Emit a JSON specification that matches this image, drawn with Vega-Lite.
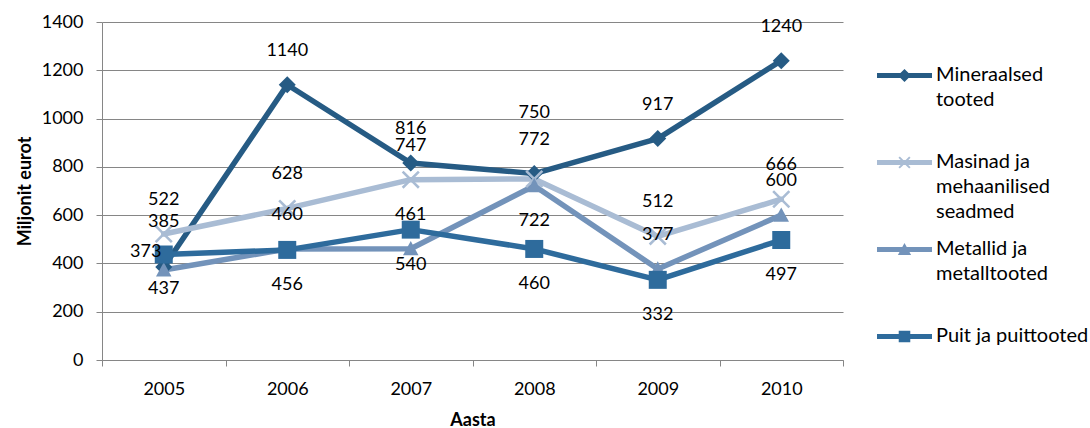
{
  "$schema": "https://vega.github.io/schema/vega-lite/v6.json",
  "autosize": {"type": "none"},
  "padding": {"left": 102, "top": 22, "right": 247, "bottom": 68},
  "width": 741,
  "height": 338,
  "data": {
    "values": [
      {"aasta": "2005", "grupp": "Mineraalsed tooted", "vaartus": 385},
      {"aasta": "2006", "grupp": "Mineraalsed tooted", "vaartus": 1140},
      {"aasta": "2007", "grupp": "Mineraalsed tooted", "vaartus": 816},
      {"aasta": "2008", "grupp": "Mineraalsed tooted", "vaartus": 772},
      {"aasta": "2009", "grupp": "Mineraalsed tooted", "vaartus": 917},
      {"aasta": "2010", "grupp": "Mineraalsed tooted", "vaartus": 1240},
      {"aasta": "2005", "grupp": "Masinad ja mehaanilised seadmed", "vaartus": 522},
      {"aasta": "2006", "grupp": "Masinad ja mehaanilised seadmed", "vaartus": 628},
      {"aasta": "2007", "grupp": "Masinad ja mehaanilised seadmed", "vaartus": 747},
      {"aasta": "2008", "grupp": "Masinad ja mehaanilised seadmed", "vaartus": 750},
      {"aasta": "2009", "grupp": "Masinad ja mehaanilised seadmed", "vaartus": 512},
      {"aasta": "2010", "grupp": "Masinad ja mehaanilised seadmed", "vaartus": 666},
      {"aasta": "2005", "grupp": "Metallid ja metalltooted", "vaartus": 373},
      {"aasta": "2006", "grupp": "Metallid ja metalltooted", "vaartus": 460},
      {"aasta": "2007", "grupp": "Metallid ja metalltooted", "vaartus": 461},
      {"aasta": "2008", "grupp": "Metallid ja metalltooted", "vaartus": 722},
      {"aasta": "2009", "grupp": "Metallid ja metalltooted", "vaartus": 377},
      {"aasta": "2010", "grupp": "Metallid ja metalltooted", "vaartus": 600},
      {"aasta": "2005", "grupp": "Puit ja puittooted", "vaartus": 437},
      {"aasta": "2006", "grupp": "Puit ja puittooted", "vaartus": 456},
      {"aasta": "2007", "grupp": "Puit ja puittooted", "vaartus": 540},
      {"aasta": "2008", "grupp": "Puit ja puittooted", "vaartus": 460},
      {"aasta": "2009", "grupp": "Puit ja puittooted", "vaartus": 332},
      {"aasta": "2010", "grupp": "Puit ja puittooted", "vaartus": 497}
    ]
  },
  "encoding": {
    "x": {
      "field": "aasta",
      "type": "ordinal",
      "bandPosition": 0.5,
      "scale": {"type": "band", "paddingInner": 0, "paddingOuter": 0},
      "axis": {
        "title": "Aasta",
        "labelAngle": 0,
        "tickBand": "extent",
        "grid": false,
        "labelPadding": 14,
        "titleY": 60,
        "titleBaseline": "middle"
      }
    },
    "y": {
      "field": "vaartus",
      "type": "quantitative",
      "scale": {"domain": [0, 1400], "nice": false},
      "axis": {
        "title": "Miljonit eurot",
        "format": "d",
        "values": [0, 200, 400, 600, 800, 1000, 1200, 1400],
        "labelPadding": 13,
        "titleX": -77,
        "titleY": 169,
        "titleAngle": -90,
        "titleAlign": "center",
        "titleBaseline": "middle"
      }
    }
  },
  "layer": [
    {
      "mark": {"type": "line", "strokeWidth": 5.5, "strokeJoin": "round", "strokeCap": "round"},
      "encoding": {
        "color": {
          "field": "grupp",
          "type": "nominal",
          "sort": null,
          "scale": {
            "domain": ["Mineraalsed tooted", "Masinad ja mehaanilised seadmed", "Metallid ja metalltooted", "Puit ja puittooted"],
            "range": ["#265B84", "#A9BCD4", "#7393BA", "#2E6B9C"]
          },
          "legend": {
            "title": null,
            "orient": "none",
            "legendX": 775,
            "legendY": 26,
            "padding": 0,
            "symbolSize": 3025,
            "labelOffset": 4,
            "labelFontSize": 20,
            "labelColor": "#000000",
            "labelBaseline": "top",
            "labelLimit": 400,
            "rowPadding": 0,
            "labelExpr": "datum.label == 'Mineraalsed tooted' ? ['Mineraalsed', 'tooted', ''] : datum.label == 'Masinad ja mehaanilised seadmed' ? ['Masinad ja', 'mehaanilised', 'seadmed'] : datum.label == 'Metallid ja metalltooted' ? ['Metallid ja', 'metalltooted', ''] : ['Puit ja puittooted', '', '']",
            "encode": {
              "symbols": {
                "update": {
                  "shape": {"signal": "datum.value == 'Mineraalsed tooted' ? 'M-1,-0.09H1V0.09H-1Z M0,-0.24L0.24,0L0,0.24L-0.24,0Z' : datum.value == 'Masinad ja mehaanilised seadmed' ? 'M-1,-0.09H1V0.09H-1Z M-0.22,-0.17L-0.17,-0.22L0,-0.05L0.17,-0.22L0.22,-0.17L0.05,0L0.22,0.17L0.17,0.22L0,0.05L-0.17,0.22L-0.22,0.17L-0.05,0Z' : datum.value == 'Metallid ja metalltooted' ? 'M-1,-0.09H1V0.09H-1Z M0,-0.24L0.24,0.2H-0.24Z' : 'M-1,-0.09H1V0.09H-1Z M-0.21,-0.21H0.21V0.21H-0.21Z'"},
                  "fill": {"scale": "color", "field": "value"},
                  "fillOpacity": {"value": 1},
                  "stroke": {"value": "transparent"},
                  "strokeWidth": {"value": 0},
                  "opacity": {"value": 1}
                }
              },
              "labels": {
                "update": {
                  "dy": {"value": -11},
                  "lineHeight": {"value": 25}
                }
              }
            }
          }
        }
      }
    },
    {
      "mark": {"type": "point", "filled": true, "opacity": 1, "strokeWidth": 0},
      "encoding": {
        "color": {"field": "grupp", "type": "nominal", "sort": null},
        "shape": {
          "condition": [
            {"test": "datum.grupp == 'Mineraalsed tooted'", "value": "M0,-1L1,0L0,1L-1,0Z"},
            {"test": "datum.grupp == 'Masinad ja mehaanilised seadmed'", "value": "M-1,-0.8L-0.8,-1L0,-0.2L0.8,-1L1,-0.8L0.2,0L1,0.8L0.8,1L0,0.2L-0.8,1L-1,0.8L-0.2,0Z"},
            {"test": "datum.grupp == 'Metallid ja metalltooted'", "value": "M0,-1L1,0.85H-1Z"}
          ],
          "value": "M-1,-1H1V1H-1Z"
        },
        "size": {
          "condition": [
            {"test": "datum.grupp == 'Mineraalsed tooted'", "value": 289},
            {"test": "datum.grupp == 'Metallid ja metalltooted'", "value": 240}
          ],
          "value": 324
        }
      }
    },
    {
      "transform": [
        {"filter": "datum.grupp != 'Puit ja puittooted' && !(datum.aasta == '2008' && datum.grupp != 'Mineraalsed tooted') && datum.aasta != '2005'"}
      ],
      "mark": {"type": "text", "baseline": "middle", "align": "center", "fontSize": 18, "color": "#000000", "dy": -34},
      "encoding": {"text": {"field": "vaartus", "type": "quantitative"}}
    },
    {
      "transform": [
        {"filter": "datum.aasta == '2005' && datum.grupp == 'Masinad ja mehaanilised seadmed'"}
      ],
      "mark": {"type": "text", "baseline": "middle", "align": "center", "fontSize": 18, "color": "#000000", "dy": -34},
      "encoding": {"text": {"field": "vaartus", "type": "quantitative"}}
    },
    {
      "transform": [
        {"filter": "datum.grupp == 'Puit ja puittooted' || (datum.aasta == '2008' && datum.grupp == 'Metallid ja metalltooted')"}
      ],
      "mark": {"type": "text", "baseline": "middle", "align": "center", "fontSize": 18, "color": "#000000", "dy": 35},
      "encoding": {"text": {"field": "vaartus", "type": "quantitative"}}
    },
    {
      "transform": [
        {"filter": "datum.aasta == '2008' && datum.grupp == 'Masinad ja mehaanilised seadmed'"}
      ],
      "mark": {"type": "text", "baseline": "middle", "align": "center", "fontSize": 18, "color": "#000000", "dy": -66},
      "encoding": {"text": {"field": "vaartus", "type": "quantitative"}}
    },
    {
      "transform": [
        {"filter": "datum.aasta == '2005' && datum.grupp == 'Mineraalsed tooted'"}
      ],
      "mark": {"type": "text", "baseline": "middle", "align": "center", "fontSize": 18, "color": "#000000", "dy": -45},
      "encoding": {"text": {"field": "vaartus", "type": "quantitative"}}
    },
    {
      "transform": [
        {"filter": "datum.aasta == '2005' && datum.grupp == 'Metallid ja metalltooted'"}
      ],
      "mark": {"type": "text", "baseline": "middle", "align": "center", "fontSize": 18, "color": "#000000", "dx": -18, "dy": -18},
      "encoding": {"text": {"field": "vaartus", "type": "quantitative"}}
    }
  ],
  "config": {
    "font": "Lato",
    "view": {"stroke": null},
    "axis": {
      "labelFont": "Lato",
      "labelFontSize": 18,
      "labelColor": "#000000",
      "titleFont": "Lato",
      "titleFontSize": 18,
      "titleFontWeight": "bold",
      "titleColor": "#000000",
      "domainColor": "#868686",
      "domainWidth": 1,
      "tickColor": "#868686",
      "tickWidth": 1,
      "tickSize": 6,
      "gridColor": "#868686",
      "gridWidth": 1
    },
    "legend": {"labelFont": "Lato"}
  }
}
